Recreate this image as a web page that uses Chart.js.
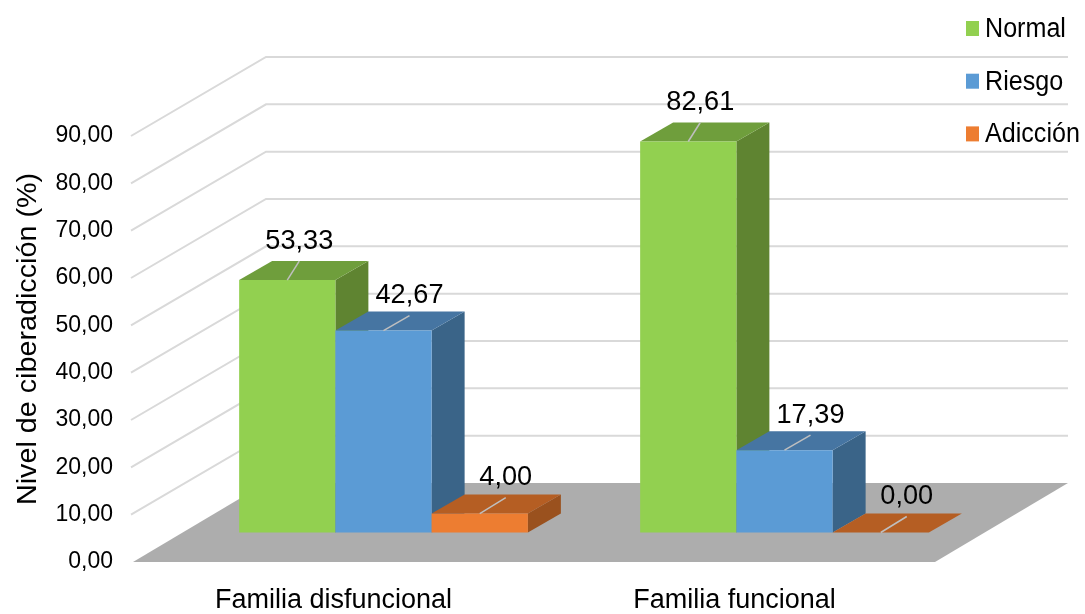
<!DOCTYPE html>
<html>
<head>
<meta charset="utf-8">
<title>Nivel de ciberadicción</title>
<script src="https://cdn.jsdelivr.net/npm/chart.js@4"></script>
<style>
  html, body { margin: 0; padding: 0; background: #fff; }
  canvas { display: block; }
</style>
</head>
<body>
<canvas id="grafico" width="1085" height="614"></canvas>
<script>
const categorias = ['Familia disfuncional', 'Familia funcional'];
const series = ['Normal', 'Riesgo', 'Adicción'];
const normal = [53.33, 82.61];
const riesgo = [42.67, 17.39];
const adiccion = [4.00, 0.00];
const tituloY = 'Nivel de ciberadicción (%)';

const FUENTE = '"Liberation Sans", Arial, sans-serif';

// colores: frente, tapa, lado
const frente = ['#92D050', '#5B9BD5', '#ED7D31'];
const tapa = ['#6F9E3C', '#4675A2', '#B55E23'];
const lado = ['#5F8431', '#3A6488', '#9A511E'];

// profundidad del piso y posición de las barras dentro de él
const fondoX = 133, fondoY = 79;
const barraX = 50, barraY = 29.5;
const cuboX = 33, cuboY = 19;
// la línea guía de cada etiqueta
const guiaX = [12, 26, 26], guiaY = [19, 15, 16];

function formato(v) {
  return v.toFixed(2).replace('.', ',');
}

function poligono(ctx, puntos, color) {
  ctx.beginPath();
  puntos.forEach((p, i) => (i ? ctx.lineTo(p[0], p[1]) : ctx.moveTo(p[0], p[1])));
  ctx.closePath();
  ctx.fillStyle = color;
  ctx.fill();
}

// texto angostado o estirado en horizontal, como en el original
function texto(ctx, s, x, y, escala) {
  ctx.save();
  ctx.translate(x, y);
  ctx.scale(escala, 1);
  ctx.fillText(s, 0, 0);
  ctx.restore();
}

const grafico3d = {
  id: 'grafico3d',
  beforeDatasetsDraw(chart) {
    const { ctx, chartArea: a, scales: { y } } = chart;
    const cero = y.getPixelForValue(0);
    ctx.save();
    // piso y paredes
    poligono(ctx, [[a.left, cero], [a.left + fondoX, cero - fondoY], [a.right + fondoX, cero - fondoY], [a.right, cero]], '#ADADAD');
    ctx.strokeStyle = '#D9D9D9';
    ctx.lineWidth = 2;
    y.ticks.forEach(t => {
      if (t.value === 0) return;
      const py = y.getPixelForValue(t.value);
      ctx.beginPath();
      ctx.moveTo(a.left - 2, py);
      ctx.lineTo(a.left + fondoX, py - fondoY);
      ctx.lineTo(a.right + fondoX, py - fondoY);
      ctx.stroke();
    });
    // las series van de izquierda a derecha para que el frente tape el lado anterior
    ctx.translate(barraX, -barraY);
    chart.data.datasets.forEach((ds, i) => {
      chart.getDatasetMeta(i).data.forEach(b => {
        const izq = b.x - b.width / 2, der = b.x + b.width / 2;
        poligono(ctx, [[der, b.y], [der + cuboX, b.y - cuboY], [der + cuboX, b.base - cuboY], [der, b.base]], lado[i]);
        poligono(ctx, [[izq, b.y], [izq + cuboX, b.y - cuboY], [der + cuboX, b.y - cuboY], [der, b.y]], tapa[i]);
        b.draw(ctx);
      });
    });
    ctx.restore();
  },
  beforeDatasetDraw() {
    return false; // ya dibujadas arriba
  },
  afterDatasetsDraw(chart) {
    const ctx = chart.ctx;
    ctx.save();
    ctx.textAlign = 'center';
    ctx.textBaseline = 'middle';
    chart.data.datasets.forEach((ds, i) => {
      chart.getDatasetMeta(i).data.forEach((b, j) => {
        const x0 = b.x + barraX, y0 = b.y - barraY;
        const x1 = x0 + guiaX[i], y1 = y0 - guiaY[i];
        ctx.strokeStyle = '#BFBFBF';
        ctx.lineWidth = 1.5;
        ctx.beginPath();
        ctx.moveTo(x0, y0);
        ctx.lineTo(x1, y1);
        ctx.stroke();
        ctx.fillStyle = '#000';
        ctx.font = '28px ' + FUENTE;
        texto(ctx, formato(ds.data[j]), x1, y1 - 20, 0.97);
      });
    });
    // título del eje
    ctx.fillStyle = '#000';
    ctx.font = '27.5px ' + FUENTE;
    ctx.save();
    ctx.textBaseline = 'alphabetic';
    ctx.translate(35.5, 339);
    ctx.rotate(-Math.PI / 2);
    texto(ctx, tituloY, 0, 0, 1.045);
    ctx.restore();
    // leyenda
    ctx.textAlign = 'left';
    ctx.font = '27px ' + FUENTE;
    series.forEach((s, i) => {
      const cy = 28.5 + i * 52.7;
      ctx.fillStyle = frente[i];
      ctx.fillRect(966, cy - 7.5, 13, 15);
      ctx.fillStyle = '#000';
      texto(ctx, s, 985, cy + 1, 0.93);
    });
    ctx.restore();
  }
};

new Chart(document.getElementById('grafico'), {
  type: 'bar',
  data: {
    labels: categorias,
    datasets: [
      { label: series[0], data: normal, backgroundColor: frente[0] },
      { label: series[1], data: riesgo, backgroundColor: frente[1] },
      { label: series[2], data: adiccion, backgroundColor: frente[2] }
    ]
  },
  options: {
    responsive: false,
    animation: false,
    devicePixelRatio: 1,
    categoryPercentage: 0.72,
    barPercentage: 1,
    layout: { padding: { top: 136, right: 150, left: 0, bottom: 0 } },
    plugins: { legend: { display: false }, tooltip: { enabled: false } },
    scales: {
      x: {
        grid: { display: false, drawTicks: false },
        border: { display: false },
        ticks: { color: '#000', font: { family: FUENTE, size: 27 }, padding: 22, maxRotation: 0, autoSkip: false },
        afterFit(s) { s.height = 52; }
      },
      y: {
        min: 0,
        max: 90,
        grid: { display: false, drawTicks: false },
        border: { display: false },
        ticks: {
          stepSize: 10,
          color: '#000',
          font: { family: FUENTE, size: 23 },
          padding: 20,
          callback: v => formato(v)
        },
        afterFit(s) { s.width = 133; }
      }
    }
  },
  plugins: [grafico3d]
});
</script>
</body>
</html>
